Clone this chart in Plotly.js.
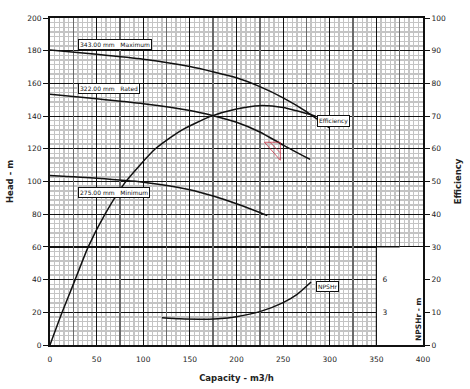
<!DOCTYPE html>
<html>
<head>
<meta charset="utf-8">
<script src="https://cdn.plot.ly/plotly-3.0.1.min.js"></script>
<style>html,body{margin:0;padding:0;background:#fff;}#chart{width:470px;height:389px;}</style>
</head>
<body>
<div id="chart"></div>
<script>
// Head curves (capacity m3/h -> head m)
var maxX = [0, 50, 100, 150, 200, 225, 250, 275, 300];
var maxHead = [180.4, 177.8, 174.8, 170.3, 163.4, 158.0, 151.2, 142.8, 132.7];
var ratedX = [0, 50, 100, 150, 175, 200, 225, 250, 279];
var ratedHead = [153.3, 150.6, 147.6, 143.4, 140.2, 136.2, 130.3, 122.3, 113.5];
var minX = [0, 50, 100, 150, 175, 200, 225, 233];
var minHead = [103.6, 102.0, 99.6, 95.0, 91.1, 86.4, 81.0, 79.1];
// Efficiency (%)
var effX = [0, 13, 27, 41, 59, 80, 113, 140, 173, 200, 225, 250, 285];
var effVal = [0, 10, 20, 30, 40, 49.5, 60, 65.5, 70, 72.2, 73.2, 72.6, 70];
// NPSHr (m)
var npshX = [120, 140, 160, 170, 180, 200, 225, 250, 265, 280];
var npshVal = [2.50, 2.40, 2.36, 2.36, 2.40, 2.60, 3.06, 3.89, 4.65, 5.78];
// Tolerance triangle (capacity, head)
var triX = [230, 247, 247, 230];
var triHead = [124, 124, 113, 124];
var triInnerX = [236, 247];
var triInnerHead = [124, 117.5];
// Labels
var curveLabels = ["343.00 mm   Maximum", "322.00 mm   Rated", "275.00 mm   Minimum", "Efficiency", "NPSHr"];
var labelX = [30, 30, 30, 286, 285];
var labelY = [184, 156.6, 93.3, 137, 35.5];
var npshTicks = [3, 6];

var lineStyle = {color: '#111', width: 1.5, shape: 'spline', smoothing: 0.6};
var traces = [
  {x: maxX, y: maxHead, mode: 'lines', line: lineStyle, hoverinfo: 'skip'},
  {x: ratedX, y: ratedHead, mode: 'lines', line: lineStyle, hoverinfo: 'skip'},
  {x: minX, y: minHead, mode: 'lines', line: lineStyle, hoverinfo: 'skip'},
  {x: effX, y: effVal, yaxis: 'y2', mode: 'lines', line: lineStyle, hoverinfo: 'skip'},
  {x: npshX, y: npshVal, yaxis: 'y3', mode: 'lines', line: lineStyle, hoverinfo: 'skip'},
  {x: triX, y: triHead, mode: 'lines', line: {color: 'rgba(200,40,60,0.75)', width: 1}, hoverinfo: 'skip'},
  {x: triInnerX, y: triInnerHead, mode: 'lines', line: {color: 'rgba(200,40,60,0.75)', width: 1}, hoverinfo: 'skip'},
  {x: [0], y: [0], xaxis: 'x2', mode: 'markers', marker: {opacity: 0}, hoverinfo: 'skip'}
];

var darkVals = [];
for (var v = 25; v < 400; v += 50) darkVals.push(v);

var tickFont = {family: 'DejaVu Sans', size: 7.5, color: '#222'};
var titleFont = {family: 'DejaVu Sans', size: 8.5, color: '#222', weight: 'bold'};

var annotations = curveLabels.map(function (t, i) {
  return {
    text: t, x: labelX[i], y: labelY[i], xref: 'x', yref: 'y',
    xanchor: 'left', yanchor: 'middle', showarrow: false,
    font: {family: 'DejaVu Sans', size: 6, color: '#111'},
    bgcolor: '#fff', bordercolor: '#111', borderwidth: 1, borderpad: 1
  };
});
annotations.push({
  text: 'NPSHr - m', textangle: -90, x: 400, y: 0, xref: 'x', yref: 'y',
  xanchor: 'right', yanchor: 'bottom', xshift: 2, yshift: 2, showarrow: false,
  font: {family: 'DejaVu Sans', size: 7.5, color: '#222', weight: 'bold'}
});

var layout = {
  width: 470, height: 389,
  margin: {l: 50, r: 47, t: 18, b: 44},
  paper_bgcolor: '#fff', plot_bgcolor: '#fff',
  showlegend: false,
  xaxis: {
    range: [0, 400], tickmode: 'linear', tick0: 0, dtick: 50,
    showgrid: true, gridcolor: '#111', gridwidth: 1.2,
    minor: {dtick: 5, tick0: 0, showgrid: true, gridcolor: '#c4c4c4', gridwidth: 1.4, ticks: ''},
    showline: true, linecolor: '#111', linewidth: 2, mirror: true,
    ticks: '', ticklabelstandoff: 6, zeroline: false,
    tickfont: tickFont,
    title: {text: 'Capacity - m3/h', font: titleFont, standoff: 12}
  },
  xaxis2: {
    range: [0, 400], overlaying: 'x', tickmode: 'array', tickvals: darkVals,
    showgrid: true, gridcolor: '#6a6a6a', gridwidth: 1.4,
    showticklabels: false, ticks: '', showline: false, zeroline: false
  },
  yaxis: {
    range: [0, 200], tickmode: 'linear', tick0: 0, dtick: 20,
    showgrid: true, gridcolor: '#111', gridwidth: 1.2,
    minor: {dtick: 20 / 7, tick0: 0, showgrid: true, gridcolor: '#c4c4c4', gridwidth: 1.4, ticks: ''},
    showline: true, linecolor: '#111', linewidth: 2, mirror: true,
    ticks: 'outside', ticklen: 5, tickcolor: '#111', zeroline: false,
    tickfont: tickFont,
    title: {text: 'Head - m', font: titleFont, standoff: 12}
  },
  yaxis2: {
    range: [0, 100], overlaying: 'y', side: 'right', tickmode: 'linear', tick0: 0, dtick: 10,
    showgrid: false, zeroline: false, showline: true, linecolor: '#111', linewidth: 2,
    ticks: 'outside', ticklen: 5, tickcolor: '#111', tickfont: tickFont,
    title: {text: 'Efficiency', font: titleFont, standoff: 10}
  },
  yaxis3: {
    range: [0, 30], overlaying: 'y', side: 'right', anchor: 'free', position: 0.875,
    tickmode: 'array', tickvals: npshTicks, ticktext: npshTicks.map(String),
    showgrid: false, zeroline: false, showline: false, ticks: '', ticklabelstandoff: 5,
    tickfont: tickFont
  },
  shapes: [
    {type: 'rect', layer: 'between', xref: 'x', yref: 'y', x0: 350, x1: 400, y0: 0, y1: 60,
     fillcolor: '#fff', line: {width: 0}},
    {type: 'line', layer: 'between', xref: 'x', yref: 'y', x0: 350, x1: 350, y0: 0, y1: 60,
     line: {color: '#111', width: 1.2}},
    {type: 'line', layer: 'between', xref: 'x', yref: 'y', x0: 350, x1: 375, y0: 60, y1: 60,
     line: {color: '#111', width: 1.2}}
  ],
  annotations: annotations
};

Plotly.newPlot('chart', traces, layout, {displayModeBar: false, staticPlot: true});
</script>
</body>
</html>
